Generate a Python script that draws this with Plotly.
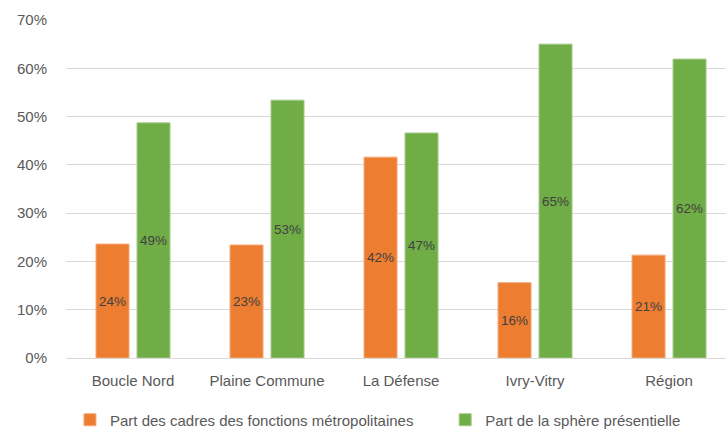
import plotly.graph_objects as go

categories = ["Boucle Nord", "Plaine Commune", "La Défense", "Ivry-Vitry", "Région"]
cadres = [0.236, 0.234, 0.416, 0.156, 0.213]
spheres = [0.487, 0.534, 0.466, 0.650, 0.619]
series_names = ["Part des cadres des fonctions métropolitaines", "Part de la sphère présentielle"]
tick_vals = [0, 0.1, 0.2, 0.3, 0.4, 0.5, 0.6, 0.7]

FONT = "Liberation Sans, Arial, sans-serif"
label_font = dict(family=FONT, size=14.5, color="#404040")

fig = go.Figure()
fig.add_trace(go.Bar(
    x=categories, y=cadres, name=series_names[0], legend="legend",
    marker=dict(color="#ED7D31", line=dict(color="#F4A97A", width=1)),
    texttemplate="%{y:.0%}", textposition="inside", insidetextanchor="middle",
    textfont=label_font, textangle=0,
))
fig.add_trace(go.Bar(
    x=categories, y=spheres, name=series_names[1], legend="legend2",
    marker=dict(color="#70AD47", line=dict(color="#A3CB89", width=1)),
    texttemplate="%{y:.0%}", textposition="inside", insidetextanchor="middle",
    textfont=label_font, textangle=0,
))

legend_common = dict(orientation="h", y=-0.1834, yanchor="middle", xanchor="left",
                     font=dict(family=FONT, size=15, color="#595959"),
                     itemwidth=30, bgcolor="rgba(0,0,0,0)")

fig.update_layout(
    width=726, height=429,
    margin=dict(l=66, r=0, t=20, b=71, autoexpand=False),
    paper_bgcolor="white", plot_bgcolor="white",
    barmode="group", bargap=0.388, bargroupgap=0.195,
    font=dict(family=FONT, size=15, color="#595959"),
    legend=dict(x=0.006, **legend_common),
    legend2=dict(x=0.5745, **legend_common),
    showlegend=True,
)
fig.update_xaxes(range=[-0.5, 4.425], showgrid=False, zeroline=False, showline=False,
                 ticks="", ticklabelstandoff=12, tickfont=dict(size=15, color="#595959"))
fig.update_yaxes(range=[0, 0.7], tickvals=tick_vals, tickformat=".0%",
                 showgrid=True, gridcolor="#D9D9D9", gridwidth=1,
                 zeroline=True, zerolinecolor="#D9D9D9", zerolinewidth=1,
                 showline=False, ticks="", ticklabelstandoff=18,
                 tickfont=dict(size=15, color="#595959"))

fig.write_html("out.html", config={"displayModeBar": False},
               post_script="document.body.style.margin='0';document.body.style.overflow='hidden';")
